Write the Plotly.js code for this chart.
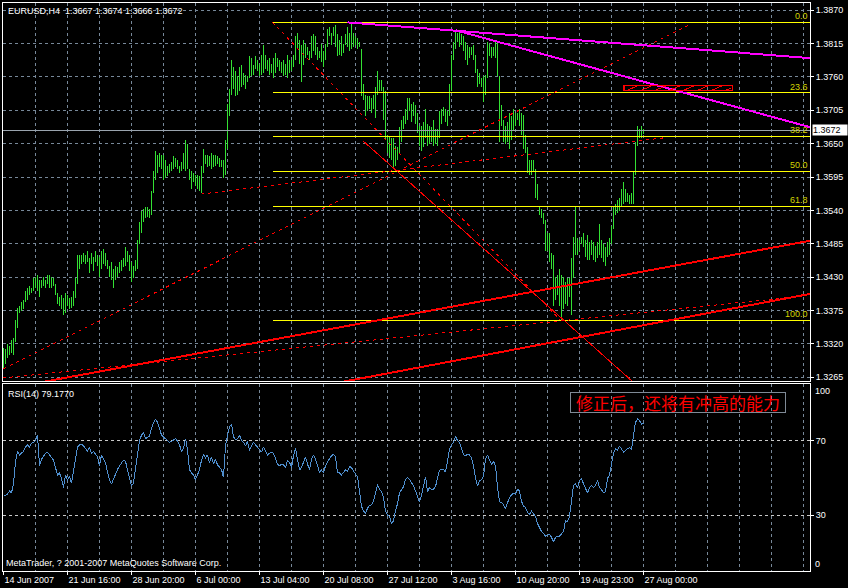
<!DOCTYPE html>
<html><head><meta charset="utf-8">
<script src="https://cdn.plot.ly/plotly-3.0.1.min.js"></script>
<style>html,body{margin:0;padding:0;background:#000;overflow:hidden}#chart{width:848px;height:588px}
#chart path{shape-rendering:crispEdges}</style>
</head><body><div id="chart"></div>
<script>
// ---------- data ----------
const symbol = 'EURUSD', timeframe = 'H4';
const lastOHLC = [1.3667, 1.3674, 1.3666, 1.3672];
const rsiPeriod = 14, rsiLast = 79.1770;
const bidPrice = 1.3672;
const priceTicks = [1.3265,1.3320,1.3375,1.3430,1.3485,1.3540,1.3595,1.3650,1.3705,1.3760,1.3815,1.3870];
const dateBars = [0,32,64,96,128,160,192,224,256,288,320];
const dateLabels = ['14 Jun 2007','21 Jun 16:00','28 Jun 20:00','6 Jul 00:00','13 Jul 04:00','20 Jul 08:00','27 Jul 12:00','3 Aug 16:00','10 Aug 20:00','19 Aug 23:00','27 Aug 00:00'];
const rsiLevels = [30,70];
const rsiBounds = [0,100];

const highs = [
1.3314,1.3311,1.3320,1.3317,1.3326,1.3329,1.3359,1.3380,1.3383,1.3389,
1.3392,1.3407,1.3413,1.3416,1.3413,1.3428,1.3431,1.3434,1.3425,1.3425,
1.3431,1.3425,1.3434,1.3434,1.3431,1.3428,1.3419,1.3404,1.3398,1.3401,
1.3395,1.3404,1.3401,1.3395,1.3398,1.3407,1.3428,1.3467,1.3467,1.3467,
1.3470,1.3467,1.3473,1.3461,1.3470,1.3464,1.3473,1.3467,1.3464,1.3473,
1.3476,1.3470,1.3458,1.3449,1.3455,1.3443,1.3449,1.3446,1.3455,1.3458,
1.3461,1.3479,1.3473,1.3467,1.3455,1.3449,1.3458,1.3491,1.3521,1.3539,
1.3542,1.3545,1.3545,1.3542,1.3572,1.3605,1.3638,1.3632,1.3635,1.3632,
1.3632,1.3623,1.3614,1.3617,1.3620,1.3629,1.3626,1.3623,1.3614,1.3620,
1.3635,1.3656,1.3650,1.3608,1.3605,1.3602,1.3599,1.3599,1.3596,1.3614,
1.3641,1.3632,1.3632,1.3629,1.3635,1.3632,1.3632,1.3629,1.3626,1.3623,
1.3623,1.3656,1.3716,1.3740,1.3788,1.3776,1.3770,1.3761,1.3776,1.3779,
1.3767,1.3764,1.3761,1.3794,1.3791,1.3779,1.3794,1.3788,1.3782,1.3797,
1.3812,1.3797,1.3788,1.3791,1.3782,1.3791,1.3800,1.3791,1.3788,1.3785,
1.3788,1.3782,1.3797,1.3788,1.3788,1.3797,1.3827,1.3833,1.3821,1.3812,
1.3821,1.3815,1.3809,1.3803,1.3827,1.3830,1.3827,1.3809,1.3803,1.3815,
1.3803,1.3815,1.3839,1.3842,1.3833,1.3842,1.3845,1.3830,1.3821,1.3827,
1.3815,1.3830,1.3842,1.3833,1.3850,1.3833,1.3827,1.3824,1.3818,1.3806,
1.3749,1.3731,1.3728,1.3728,1.3725,1.3731,1.3743,1.3770,1.3755,1.3755,
1.3743,1.3737,1.3665,1.3662,1.3659,1.3659,1.3647,1.3644,1.3677,1.3689,
1.3695,1.3707,1.3725,1.3725,1.3716,1.3719,1.3713,1.3701,1.3680,1.3680,
1.3686,1.3707,1.3683,1.3680,1.3677,1.3689,1.3674,1.3674,1.3704,1.3707,
1.3710,1.3707,1.3704,1.3749,1.3797,1.3818,1.3836,1.3833,1.3836,1.3830,
1.3827,1.3818,1.3812,1.3809,1.3809,1.3812,1.3797,1.3773,1.3767,1.3758,
1.3761,1.3764,1.3818,1.3815,1.3809,1.3809,1.3818,1.3818,1.3761,1.3713,
1.3689,1.3680,1.3686,1.3701,1.3695,1.3707,1.3701,1.3701,1.3707,1.3701,
1.3698,1.3665,1.3644,1.3623,1.3623,1.3623,1.3608,1.3584,1.3548,1.3542,
1.3536,1.3524,1.3503,1.3503,1.3470,1.3467,1.3431,1.3434,1.3443,1.3434,
1.3431,1.3422,1.3428,1.3428,1.3461,1.3497,1.3545,1.3494,1.3491,1.3497,
1.3503,1.3491,1.3500,1.3488,1.3491,1.3488,1.3482,1.3488,1.3518,1.3491,
1.3485,1.3479,1.3488,1.3494,1.3515,1.3548,1.3551,1.3557,1.3560,1.3575,
1.3587,1.3575,1.3569,1.3566,1.3569,1.3605,1.3653,1.3680,1.3674,1.3680,
1.3674];

const lows = [
1.3278,1.3287,1.3296,1.3302,1.3305,1.3302,1.3323,1.3347,1.3371,1.3374,
1.3377,1.3389,1.3392,1.3401,1.3404,1.3407,1.3413,1.3407,1.3398,1.3413,
1.3416,1.3413,1.3419,1.3413,1.3413,1.3416,1.3401,1.3386,1.3383,1.3377,
1.3368,1.3371,1.3383,1.3377,1.3380,1.3383,1.3395,1.3419,1.3443,1.3452,
1.3455,1.3452,1.3455,1.3437,1.3452,1.3440,1.3455,1.3449,1.3431,1.3443,
1.3452,1.3449,1.3443,1.3431,1.3425,1.3413,1.3425,1.3431,1.3437,1.3440,
1.3446,1.3449,1.3455,1.3440,1.3422,1.3428,1.3440,1.3443,1.3485,1.3503,
1.3521,1.3527,1.3530,1.3527,1.3533,1.3569,1.3590,1.3602,1.3611,1.3608,
1.3590,1.3593,1.3596,1.3602,1.3605,1.3608,1.3611,1.3608,1.3602,1.3605,
1.3608,1.3605,1.3608,1.3590,1.3575,1.3587,1.3581,1.3575,1.3572,1.3569,
1.3602,1.3617,1.3611,1.3614,1.3608,1.3611,1.3614,1.3617,1.3611,1.3611,
1.3593,1.3599,1.3641,1.3695,1.3731,1.3740,1.3728,1.3731,1.3737,1.3743,
1.3746,1.3740,1.3752,1.3758,1.3761,1.3764,1.3773,1.3770,1.3761,1.3764,
1.3767,1.3773,1.3770,1.3764,1.3767,1.3758,1.3767,1.3776,1.3770,1.3767,
1.3761,1.3764,1.3758,1.3767,1.3770,1.3776,1.3788,1.3806,1.3782,1.3752,
1.3779,1.3791,1.3797,1.3788,1.3791,1.3803,1.3797,1.3788,1.3791,1.3785,
1.3776,1.3788,1.3809,1.3827,1.3812,1.3827,1.3809,1.3794,1.3797,1.3794,
1.3800,1.3812,1.3809,1.3803,1.3806,1.3809,1.3812,1.3806,1.3809,1.3728,
1.3722,1.3695,1.3704,1.3707,1.3701,1.3707,1.3692,1.3731,1.3737,1.3737,
1.3689,1.3656,1.3635,1.3626,1.3623,1.3608,1.3614,1.3623,1.3635,1.3653,
1.3674,1.3683,1.3689,1.3704,1.3686,1.3695,1.3683,1.3668,1.3647,1.3638,
1.3644,1.3659,1.3647,1.3650,1.3653,1.3647,1.3650,1.3647,1.3659,1.3683,
1.3695,1.3686,1.3680,1.3695,1.3737,1.3788,1.3806,1.3818,1.3809,1.3812,
1.3803,1.3788,1.3779,1.3791,1.3797,1.3788,1.3767,1.3743,1.3749,1.3743,
1.3719,1.3731,1.3758,1.3794,1.3791,1.3794,1.3791,1.3761,1.3653,1.3680,
1.3653,1.3650,1.3653,1.3641,1.3656,1.3671,1.3680,1.3689,1.3680,1.3665,
1.3641,1.3635,1.3602,1.3599,1.3599,1.3605,1.3560,1.3557,1.3533,1.3527,
1.3518,1.3473,1.3473,1.3455,1.3443,1.3383,1.3392,1.3401,1.3383,1.3359,
1.3377,1.3386,1.3383,1.3398,1.3368,1.3428,1.3467,1.3467,1.3473,1.3485,
1.3479,1.3464,1.3458,1.3458,1.3467,1.3458,1.3455,1.3461,1.3467,1.3461,
1.3455,1.3449,1.3464,1.3467,1.3485,1.3509,1.3533,1.3536,1.3539,1.3545,
1.3551,1.3554,1.3554,1.3551,1.3551,1.3551,1.3599,1.3647,1.3659,1.3659,
1.3666];

const rsi = [
41,40.6,41.4,43,42,46.8,58.4,64.2,62.3,63.2,
64.2,66.5,67.7,66.5,68.5,69,70,72.9,56.5,60,
61.3,63.2,63.8,62.3,60.7,59.4,55.5,51.6,52.6,49.7,
44.9,51.6,48.7,50.7,47.2,54.5,61.3,66.5,67.7,68.1,
67.1,65.7,64.2,66.5,63.2,64.2,62.7,61.3,56.5,62.3,
60,58,53,49.1,46.8,49.7,51.6,54.5,56.5,58,
59.4,58.8,54.5,50.7,45.8,47.2,54.5,64.2,70,72.9,
74.3,71,71.9,72.3,76.8,79.7,81.6,79.7,75.8,72.9,
71.9,71,70,69,69.6,70.4,71,69.6,67.7,64.2,
65.7,71,65.2,54.5,52.6,51.6,49.1,51.6,54.5,59.4,
62.7,60.7,62.3,58,61.3,57.4,60,56.9,55.5,54.5,
50.3,67.1,72.9,77.3,78.7,71.9,70.4,71,72.9,70,
69,67.1,69.6,64.6,67.1,69,67.7,66.1,65.2,63.8,
66.5,64.6,62.3,63.2,63.8,63.2,60.7,57.4,56.5,57.4,
56.9,55.5,59.4,58.4,55.5,61.9,65.7,60.7,54.2,55.5,
58.8,61.3,57.4,54.5,60,62.3,60,56.1,53,54.2,
52.6,56.5,58.8,60.3,61.9,62.7,61.3,53,52.6,51.6,
53,54.2,53.6,56.1,55.5,53.6,52,50.7,43.9,34.8,
32.3,31,33.7,35.2,35.6,37.5,42,46.4,43.9,42.6,
39.5,32.3,30.2,29.4,25.6,27.1,32.3,36.2,42,43.9,
45.3,49.1,50.3,49.1,47.6,45.8,43,39.5,37.2,40.6,
44.9,50.7,42.6,44.9,43.9,43.9,45.3,50.7,54.2,54.5,
54.5,53,59.4,65.2,67.7,69,72.3,70,69,65.2,
62.3,61.9,62.7,62.3,60.7,56.5,49.7,45.8,48.4,49.1,
50.7,60,62.3,59.4,57.4,58.8,56.5,44.9,37.2,36.8,
35.6,33.7,36.8,39.5,41,41.8,41.4,43.9,43,37.5,
34.8,34.3,31.4,30.4,32.3,31,29.4,25.6,23.6,21.3,
20.2,18.8,19.4,19.8,18.2,15.9,18.2,18.8,18.8,19.8,
21.3,27.1,26.7,29.4,38.1,45.8,46.8,44.5,48.7,49.7,
46.8,43.9,42,44.9,45.8,44.9,45.8,48.7,44.9,43.7,
42,42.6,49.7,51.6,56.5,63.2,65.7,64.6,67.1,65.2,
63.8,64.6,65.7,66.1,65.2,72.9,79.7,81.6,80.6,78.7,
79.177];

// drawn objects: anchor points [bar index, price]
const fibLevels = [0, 23.6, 38.2, 50, 61.8, 100];
const fibAnchors = [[134.5, 1.3850], [278.5, 1.3359]];
const risingDotted = [[0, 1.3279], [343.5, 1.3847]];
const swingLowDotted = [[99, 1.3567], [331, 1.3660]];
const channelUpper = [[223.5, 1.3381], [373.5, 1.3472]];
const channelLower = [[223.5, 1.3291], [373.5, 1.3384]];
const baseDotted = [[0, 1.3264], [373.5, 1.3390]];
const fallRay = [[180, 1.3654], [313.5, 1.3261]];
const magentaUpper = [[172, 1.3850], [403.5, 1.3791]];
const magentaLower = [[226, 1.3837], [403.5, 1.3677]];
const targetZone = [[310.2, 1.37371], [364.4, 1.37465]];
const noteText = '修正后，还将有冲高的能力';
const copyright = 'MetaTrader, ? 2001-2007 MetaQuotes Software Corp.';

// ---------- layout helpers ----------
const W = 848, H = 588;
const px = x => x / W, py = y => 1 - y / H;
const X_MIN = -0.25, X_MAX = 403.25;
const FONT = 'Liberation Sans, Arial, sans-serif';
const GRID = '#778899';

function lineShape(p, extL, extR, color, dash, width) {
  const a = p[0], b = p[1];
  const k = (b[1] - a[1]) / (b[0] - a[0]);
  const x0 = extL ? X_MIN - 60 : a[0];
  const x1 = extR ? X_MAX + 60 : b[0];
  return {type: 'line', xref: 'x', yref: 'y', x0: x0, y0: a[1] + k * (x0 - a[0]), x1: x1, y1: a[1] + k * (x1 - a[0]),
          line: {color: color, dash: dash, width: width}};
}

// ---------- traces ----------
const barIdx = highs.map((v, i) => i);
const barSpan = highs.map((h, i) => h - lows[i]);

const traces = [
  {type: 'bar', x: barIdx, y: barSpan, base: lows, width: 0.5, xaxis: 'x', yaxis: 'y',
   marker: {color: '#33e033', line: {width: 0}}, hoverinfo: 'skip'},
  {type: 'scatter', mode: 'lines', x: barIdx, y: rsi, xaxis: 'x2', yaxis: 'y2',
   line: {color: '#4f8fcf', width: 1}, hoverinfo: 'skip'}
];

// ---------- shapes ----------
const shapes = [];
shapes.push({type: 'line', xref: 'x', yref: 'y', x0: X_MIN, x1: X_MAX, y0: bidPrice, y1: bidPrice, line: {color: '#9aa4ae', width: 1}});
const fibHigh = fibAnchors[0][1], fibLow = fibAnchors[1][1];
const fibPrices = fibLevels.map(l => fibHigh - (fibHigh - fibLow) * l / 100);
fibPrices.forEach(p => shapes.push({type: 'line', xref: 'x', yref: 'y', x0: fibAnchors[0][0], x1: X_MAX, y0: p, y1: p, line: {color: '#ffff00', width: 1}}));
shapes.push(lineShape(fibAnchors, false, false, '#ff0000', '3px,4px', 1));
shapes.push(lineShape(risingDotted, false, false, '#ff0000', '3px,4px', 1));
shapes.push(lineShape(swingLowDotted, false, false, '#ff0000', '3px,4px', 1));
shapes.push(lineShape(baseDotted, false, true, '#ff0000', '3px,4px', 1));
shapes.push(lineShape(channelUpper, true, true, '#ff0000', 'solid', 2));
shapes.push(lineShape(channelLower, true, true, '#ff0000', 'solid', 2));
shapes.push(lineShape(fallRay, false, true, '#ff0000', 'solid', 1));
shapes.push(lineShape(magentaUpper, false, true, '#ff00ff', 'solid', 2));
shapes.push(lineShape(magentaLower, false, true, '#ff00ff', 'solid', 2));
const zx0 = targetZone[0][0], zx1 = targetZone[1][0], zy0 = targetZone[0][1], zy1 = targetZone[1][1];
shapes.push({type: 'rect', xref: 'x', yref: 'y', x0: zx0, x1: zx1, y0: zy0, y1: zy1, line: {color: '#ff0000', width: 1.2}});
const hatchStep = (zx1 - zx0) / 7.7;
for (let k = 0; k < 8; k++) {
  const xb = zx0 + 1 + k * hatchStep;
  let xt = xb + hatchStep * 0.95, yt = zy1;
  if (xt > zx1 - 0.5) { yt = zy0 + (zy1 - zy0) * (zx1 - 0.5 - xb) / (xt - xb); xt = zx1 - 0.5; }
  if (xb < zx1 - 1) shapes.push({type: 'line', xref: 'x', yref: 'y', x0: xb, y0: zy0, x1: xt, y1: yt, line: {color: '#ff0000', width: 1}});
}

// ---------- annotations ----------
const ann = [];
const small = {family: FONT, size: 9, color: '#ffffff'};
ann.push({xref: 'paper', yref: 'paper', x: px(6), y: py(10.5), xanchor: 'left', yanchor: 'middle', showarrow: false,
  text: symbol + ',' + timeframe + '&nbsp;&nbsp;' + lastOHLC.map(v => v.toFixed(4)).join(' '), font: small});
ann.push({xref: 'paper', yref: 'paper', x: px(6), y: py(393.5), xanchor: 'left', yanchor: 'middle', showarrow: false,
  text: 'RSI(' + rsiPeriod + ') ' + rsiLast.toFixed(4), font: small});
ann.push({xref: 'paper', yref: 'paper', x: px(4), y: py(563), xanchor: 'left', yanchor: 'middle', showarrow: false,
  text: copyright, font: small});
fibLevels.forEach((l, i) => ann.push({xref: 'paper', yref: 'y', x: px(809), y: fibPrices[i], xanchor: 'right', yanchor: 'bottom',
  showarrow: false, text: l.toFixed(1), font: {family: FONT, size: 9, color: '#d4d400'}, borderpad: 0}));
ann.push({xref: 'paper', yref: 'y', x: px(812), y: bidPrice, xanchor: 'left', yanchor: 'middle', showarrow: false,
  text: bidPrice.toFixed(4), font: {family: FONT, size: 9, color: '#000000'}, bgcolor: '#ffffff', width: 34, height: 10, align: 'left', borderpad: 0});
ann.push({xref: 'paper', yref: 'y2', x: px(813), y: rsiBounds[1], xanchor: 'left', yanchor: 'top', showarrow: false,
  text: String(rsiBounds[1]), font: small});
ann.push({xref: 'paper', yref: 'y2', x: px(813), y: rsiBounds[0], xanchor: 'left', yanchor: 'bottom', showarrow: false,
  text: String(rsiBounds[0]), font: small});
ann.push({xref: 'paper', yref: 'paper', x: px(677.5), y: py(402), xanchor: 'center', yanchor: 'middle', showarrow: false,
  text: noteText, font: {family: 'Noto Sans CJK SC', size: 17, color: '#ff0000'},
  bordercolor: '#7f8a96', borderwidth: 1, borderpad: 0, width: 214, height: 19});

// ---------- layout ----------
const layout = {
  width: W, height: H, autosize: false,
  margin: {l: 0, r: 0, t: 0, b: 0},
  paper_bgcolor: '#000000', plot_bgcolor: '#000000',
  showlegend: false, dragmode: false, bargap: 0,
  font: {family: FONT, size: 9, color: '#ffffff'},
  xaxis: {domain: [px(3), px(810)], range: [X_MIN, X_MAX], anchor: 'y', matches: 'x2',
    showticklabels: false, ticks: '', tick0: 0, dtick: 16, showgrid: true, gridcolor: GRID, griddash: '3px,3px', gridwidth: 1,
    zeroline: false, showline: true, mirror: true, linecolor: '#ffffff', linewidth: 1},
  yaxis: {domain: [py(381), py(3)], range: [1.32589, 1.38819], anchor: 'x', side: 'right',
    tickvals: priceTicks, ticktext: priceTicks.map(v => v.toFixed(4)), ticks: 'outside', ticklen: 3, tickcolor: '#ffffff',
    tickfont: small, showgrid: true, gridcolor: GRID, griddash: '3px,3px', zeroline: false,
    showline: true, mirror: true, linecolor: '#ffffff', linewidth: 1},
  xaxis2: {domain: [px(3), px(810)], range: [X_MIN, X_MAX], anchor: 'y2',
    tickvals: dateBars, ticktext: dateLabels, ticks: 'outside', ticklen: 3, tickcolor: '#ffffff',
    ticklabelposition: 'outside right', tickfont: small,
    showgrid: true, gridcolor: GRID, griddash: '3px,3px',
    minor: {tick0: 0, dtick: 16, showgrid: true, gridcolor: GRID, griddash: '3px,3px', ticks: ''},
    zeroline: false, showline: true, mirror: true, linecolor: '#ffffff', linewidth: 1},
  yaxis2: {domain: [py(571.4), py(384.4)], range: [0, 100], anchor: 'x2', side: 'right',
    tickvals: rsiLevels, ticktext: rsiLevels.map(String), ticks: 'outside', ticklen: 3, tickcolor: '#ffffff',
    tickfont: small, showgrid: true, gridcolor: '#c8c8c8', griddash: '3px,3px', zeroline: false,
    showline: true, mirror: true, linecolor: '#ffffff', linewidth: 1},
  shapes: shapes,
  annotations: ann
};

Plotly.newPlot('chart', traces, layout, {displayModeBar: false, staticPlot: true});
</script>
</body></html>
